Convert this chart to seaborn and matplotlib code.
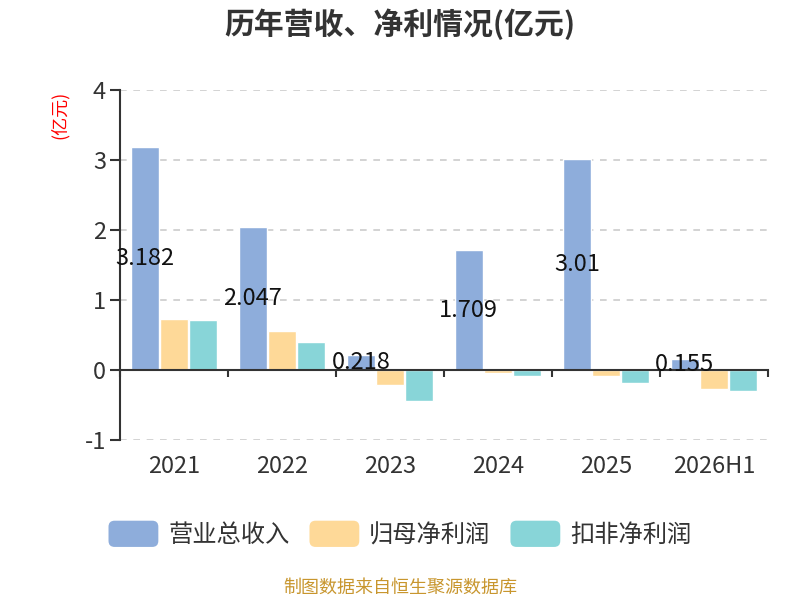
import matplotlib
matplotlib.use("Agg")
import matplotlib.pyplot as plt
import seaborn as sns
import pandas as pd
from matplotlib.patches import FancyBboxPatch
from matplotlib.legend_handler import HandlerPatch
import matplotlib.patches as mpatches

years = ["2021", "2022", "2023", "2024", "2025", "2026H1"]
series_names = ["营业总收入", "归母净利润", "扣非净利润"]
revenue = [3.182, 2.047, 0.218, 1.709, 3.01, 0.155]
net_profit = [0.73, 0.56, -0.22, -0.04, -0.09, -0.275]
deducted_profit = [0.72, 0.40, -0.44, -0.085, -0.19, -0.30]
revenue_labels = ["3.182", "2.047", "0.218", "1.709", "3.01", "0.155"]
colors = ["#8eaddb", "#fed998", "#88d5d8"]

rows = []
for vals, name in zip([revenue, net_profit, deducted_profit], series_names):
    for y, v in zip(years, vals):
        rows.append({"year": y, "value": v, "series": name})
df = pd.DataFrame(rows)

sns.set_theme(style="white")
plt.rcParams["font.family"] = ["Noto Sans CJK SC", "DejaVu Sans"]
plt.rcParams["axes.unicode_minus"] = False

fig = plt.figure(figsize=(8, 6), dpi=100)
ax = fig.add_axes([0.15, 0.2667, 0.81, 0.5833])

sns.barplot(data=df, x="year", y="value", hue="series", order=years,
            hue_order=series_names, palette=colors, width=0.81, gap=0.05,
            saturation=1, legend=False, ax=ax, zorder=3)

ax.set_xlim(-0.5, len(years) - 0.5)
ax.set_ylim(-1, 4)
ax.set_yticks([-1, 0, 1, 2, 3, 4])
ax.set_yticklabels(["-1", "0", "1", "2", "3", "4"])
ax.set_xlabel("")
ax.set_ylabel("")

# grid
ax.yaxis.grid(True, linestyle=(0, (4, 4)), color="#cccccc", linewidth=1.2, zorder=0)
ax.xaxis.grid(False)

for s in ["top", "right"]:
    ax.spines[s].set_visible(False)
ax.spines["left"].set_color("#333333")
ax.spines["left"].set_linewidth(1.5)
ax.spines["bottom"].set_position(("data", 0))
ax.spines["bottom"].set_color("#333333")
ax.spines["bottom"].set_linewidth(1.5)
ax.spines["bottom"].set_zorder(4)

ax.tick_params(axis="y", which="major", length=7, width=1.5, color="#333333",
               labelsize=17, labelcolor="#333333", pad=3, left=True)
ax.tick_params(axis="x", which="major", length=0, labelsize=17,
               labelcolor="#333333", pad=61)
ax.set_xticks([i - 0.5 for i in range(len(years) + 1)], minor=True)
ax.tick_params(axis="x", which="minor", length=5, width=1.5, color="#333333",
               direction="out", bottom=True)

# labels on revenue bars (centered)
ax.bar_label(ax.containers[0], labels=revenue_labels, label_type="center",
             fontsize=17, color="#111111", zorder=5)

# title
fig.text(0.5, 0.96, "历年营收、净利情况(亿元)", ha="center", va="center",
         fontsize=21.5, fontweight="bold", color="#333333")
# unit
fig.text(0.074, 0.808, "(亿元)", ha="center", va="center", rotation=90,
         fontsize=13, color="#ff0000")
# source
fig.text(0.5, 0.02, "制图数据来自恒生聚源数据库", ha="center", va="center",
         fontsize=13, color="#c8962e")


class HandlerRound(HandlerPatch):
    def create_artists(self, legend, orig_handle, xdescent, ydescent, width,
                       height, fontsize, trans):
        p = FancyBboxPatch((-xdescent, -ydescent - height * 0.15), width, height * 1.3,
                           boxstyle="round,pad=0,rounding_size=%f" % (height * 0.3),
                           facecolor=orig_handle.get_facecolor(), edgecolor="none",
                           transform=trans)
        return [p]


handles = [mpatches.Patch(facecolor=c, label=n) for c, n in zip(colors, series_names)]
leg = fig.legend(handles=handles, loc="center", bbox_to_anchor=(0.5, 0.108), ncol=3,
                 frameon=False, fontsize=17.5, handlelength=2.05, handleheight=0.9,
                 handletextpad=0.41, columnspacing=0.82,
                 handler_map={mpatches.Patch: HandlerRound()})
for t in leg.get_texts():
    t.set_color("#333333")

fig.savefig("out.png", dpi=100)
